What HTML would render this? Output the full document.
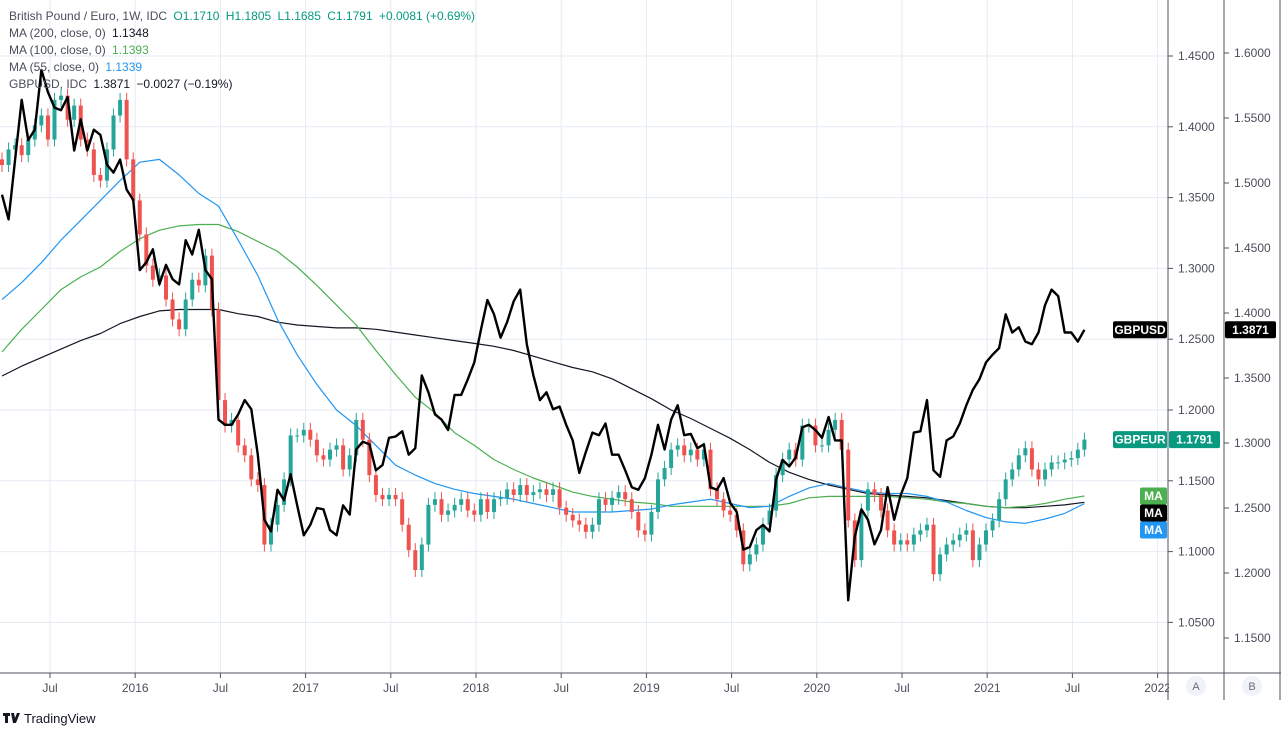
<!DOCTYPE html>
<html><head><meta charset="utf-8">
<style>
html,body{margin:0;padding:0;background:#fff;}
body{width:1281px;height:745px;overflow:hidden;font-family:"Liberation Sans","DejaVu Sans",sans-serif;}
svg text{font-family:"Liberation Sans","DejaVu Sans",sans-serif;}
</style></head>
<body>
<svg id="chart" width="1281" height="745" viewBox="0 0 1281 745" xmlns="http://www.w3.org/2000/svg">
<g id="grid"></g>
<g id="marks"></g>
<g id="axes"></g>
<g id="legend" font-size="12">
<text x="9" y="20" fill="#4a4e59">British Pound / Euro, 1W, IDC <tspan fill="#089981" dx="3">O1.1710</tspan> <tspan fill="#089981" dx="3">H1.1805</tspan> <tspan fill="#089981" dx="3">L1.1685</tspan> <tspan fill="#089981" dx="3">C1.1791</tspan> <tspan fill="#089981" dx="3">+0.0081 (+0.69%)</tspan></text>
<text x="9" y="37" fill="#4a4e59">MA (200, close, 0) <tspan fill="#131722" dx="3">1.1348</tspan></text>
<text x="9" y="54" fill="#4a4e59">MA (100, close, 0) <tspan fill="#4caf50" dx="3">1.1393</tspan></text>
<text x="9" y="71" fill="#4a4e59">MA (55, close, 0) <tspan fill="#2196f3" dx="3">1.1339</tspan></text>
<text x="9" y="88" fill="#4a4e59">GBPUSD, IDC <tspan fill="#131722" dx="3">1.3871</tspan> <tspan fill="#131722" dx="3">−0.0027 (−0.19%)</tspan></text>
</g>
<g>
<path d="M3 713h7v3h-2v7h-3v-7h-2z M11 713h3l1 5 2-5h3l-4 10h-3z" fill="#131722"/>
<text x="24" y="723" font-size="13" fill="#131722">TradingView</text>
</g>
</svg>
<script>
const eurClose=[1.373,1.384,1.387,1.380,1.391,1.401,1.408,1.391,1.419,1.422,1.405,1.415,1.391,1.384,1.366,1.362,1.384,1.408,1.419,1.377,1.348,1.324,1.302,1.292,1.295,1.278,1.264,1.257,1.278,1.292,1.288,1.309,1.271,1.207,1.189,1.193,1.175,1.168,1.151,1.147,1.105,1.119,1.133,1.151,1.182,1.182,1.186,1.179,1.168,1.165,1.172,1.175,1.158,1.168,1.193,1.179,1.154,1.140,1.137,1.140,1.137,1.119,1.101,1.087,1.105,1.133,1.137,1.126,1.129,1.133,1.137,1.129,1.126,1.137,1.128,1.137,1.138,1.144,1.140,1.147,1.140,1.142,1.144,1.140,1.144,1.131,1.126,1.122,1.119,1.114,1.119,1.137,1.133,1.138,1.142,1.137,1.128,1.115,1.112,1.128,1.151,1.159,1.172,1.175,1.168,1.172,1.165,1.172,1.144,1.137,1.129,1.126,1.115,1.091,1.098,1.105,1.119,1.129,1.154,1.165,1.172,1.165,1.189,1.189,1.175,1.175,1.186,1.193,1.172,1.122,1.094,1.129,1.144,1.140,1.129,1.115,1.105,1.108,1.105,1.112,1.115,1.119,1.084,1.098,1.105,1.108,1.112,1.115,1.094,1.105,1.115,1.122,1.137,1.151,1.158,1.168,1.173,1.158,1.151,1.158,1.163,1.163,1.165,1.166,1.172,1.1791];
const usdClose=[1.491,1.472,1.518,1.564,1.533,1.541,1.587,1.570,1.558,1.556,1.566,1.525,1.549,1.525,1.541,1.537,1.514,1.508,1.518,1.495,1.487,1.433,1.439,1.449,1.422,1.437,1.426,1.422,1.456,1.445,1.464,1.433,1.426,1.318,1.314,1.314,1.322,1.333,1.326,1.291,1.241,1.232,1.264,1.256,1.276,1.252,1.229,1.237,1.250,1.249,1.233,1.229,1.252,1.245,1.295,1.301,1.299,1.279,1.283,1.304,1.305,1.309,1.291,1.296,1.352,1.339,1.322,1.318,1.310,1.337,1.337,1.349,1.362,1.387,1.410,1.399,1.381,1.393,1.409,1.418,1.376,1.352,1.333,1.339,1.326,1.328,1.314,1.302,1.277,1.293,1.308,1.306,1.315,1.291,1.291,1.279,1.266,1.264,1.273,1.291,1.314,1.295,1.318,1.329,1.306,1.307,1.296,1.299,1.266,1.264,1.273,1.254,1.247,1.218,1.220,1.233,1.237,1.232,1.272,1.287,1.282,1.289,1.312,1.314,1.310,1.304,1.320,1.302,1.302,1.179,1.228,1.249,1.241,1.222,1.233,1.266,1.241,1.260,1.273,1.308,1.309,1.333,1.279,1.274,1.302,1.305,1.315,1.329,1.341,1.349,1.362,1.368,1.373,1.399,1.385,1.389,1.378,1.376,1.385,1.406,1.418,1.413,1.385,1.385,1.378,1.3871];
const ma55=[1.278,1.290,1.304,1.320,1.334,1.348,1.362,1.375,1.377,1.366,1.353,1.344,1.320,1.295,1.264,1.239,1.218,1.200,1.189,1.175,1.161,1.154,1.148,1.144,1.141,1.139,1.137,1.134,1.131,1.128,1.128,1.128,1.129,1.130,1.133,1.135,1.137,1.134,1.131,1.132,1.139,1.145,1.148,1.145,1.142,1.141,1.141,1.139,1.135,1.129,1.124,1.121,1.120,1.123,1.127,1.1339];
const ma100=[1.241,1.257,1.271,1.285,1.294,1.301,1.312,1.321,1.327,1.330,1.331,1.331,1.326,1.319,1.312,1.301,1.288,1.274,1.260,1.242,1.225,1.209,1.198,1.184,1.175,1.165,1.158,1.152,1.147,1.142,1.139,1.137,1.135,1.134,1.132,1.132,1.132,1.132,1.132,1.132,1.134,1.138,1.139,1.139,1.139,1.139,1.138,1.137,1.135,1.134,1.132,1.131,1.132,1.134,1.137,1.1393];
const ma200=[1.224,1.231,1.237,1.243,1.249,1.254,1.261,1.266,1.270,1.271,1.271,1.271,1.268,1.266,1.262,1.260,1.259,1.258,1.258,1.257,1.255,1.253,1.251,1.249,1.247,1.245,1.242,1.238,1.234,1.230,1.227,1.222,1.215,1.208,1.200,1.194,1.187,1.180,1.172,1.163,1.156,1.151,1.147,1.144,1.141,1.140,1.139,1.138,1.136,1.134,1.132,1.131,1.131,1.132,1.133,1.1348];
const ticksA=["1.4500","1.4000","1.3500","1.3000","1.2500","1.2000","1.1500","1.1000","1.0500"];
const ticksB=["1.6000","1.5500","1.5000","1.4500","1.4000","1.3500","1.3000","1.2500","1.2000","1.1500"];
const timeLabels=["Jul","2016","Jul","2017","Jul","2018","Jul","2019","Jul","2020","Jul","2021","Jul","2022"];

const NS="http://www.w3.org/2000/svg";
const yA=v=>56+(1.45-v)/0.05*70.8;
const yB=v=>53+(1.60-v)/0.05*65;
const xCandle=i=>2+i*6.56;
const xMA=k=>2+k*19.68;
const xTime=k=>50+k*85.2;
function mk(tag,parent,attrs){const e=document.createElementNS(NS,tag);for(const k in attrs)e.setAttribute(k,attrs[k]);parent.appendChild(e);return e;}
const grid=document.getElementById('grid'),marks=document.getElementById('marks'),axes=document.getElementById('axes');

// grid
timeLabels.forEach((t,k)=>{const l=mk('line',grid,{x1:xTime(k),x2:xTime(k),y1:0,y2:673,stroke:'#e3ebf3','stroke-width':1});

});
ticksA.forEach(t=>{const y=yA(parseFloat(t));const l=mk('line',grid,{x1:0,x2:1168,y1:y,y2:y,stroke:'#e3ebf3','stroke-width':1});

});

// MA lines
function poly(arr,xf,yf,color,w,name){const p=arr.map((v,i)=>xf(i).toFixed(1)+','+yf(v).toFixed(1)).join(' ');
const e=mk('polyline',marks,{points:p,fill:'none',stroke:color,'stroke-width':w,'stroke-linejoin':'round'});

}
poly(ma200,xMA,yA,'#131722',1.2,'ma200-line');
poly(ma100,xMA,yA,'#4caf50',1.2,'ma100-line');
poly(ma55,xMA,yA,'#2196f3',1.2,'ma55-line');

// candles
const cg=mk('g',marks,{});


eurClose.forEach((c,i)=>{const o=i?eurClose[i-1]:c+0.004;const up=c>=o;const col=up?'#26a69a':'#ef5350';const x=xCandle(i);
const top=yA(Math.max(o,c)),bot=yA(Math.min(o,c));
const w=mk('line',cg,{x1:x,x2:x,y1:top-7,y2:bot+7,stroke:col,'stroke-width':1});


const b=mk('rect',cg,{x:x-2,y:top,width:4,height:Math.max(1,bot-top),fill:col});

});

// GBPUSD line
poly(usdClose,xCandle,yB,'#000000',2.4,'gbpusd-line');

// axes lines
[[1168,0,1168,700],[1224,0,1224,700],[1280,0,1280,700],[0,673,1281,673]].forEach(a=>{const l=mk('line',axes,{x1:a[0],y1:a[1],x2:a[2],y2:a[3],stroke:'#50535e','stroke-width':1});

});
ticksA.forEach(t=>{const y=yA(parseFloat(t));mk('line',axes,{x1:1168,x2:1173,y1:y,y2:y,stroke:'#50535e'});
const e=mk('text',axes,{x:1178,y:y+4,'font-size':12,fill:'#4a4e59'});e.textContent=t;

});
ticksB.forEach(t=>{const y=yB(parseFloat(t));mk('line',axes,{x1:1224,x2:1229,y1:y,y2:y,stroke:'#50535e'});
const e=mk('text',axes,{x:1234,y:y+4,'font-size':12,fill:'#4a4e59'});e.textContent=t;

});
timeLabels.forEach((t,k)=>{const x=xTime(k);mk('line',axes,{x1:x,x2:x,y1:673,y2:678,stroke:'#50535e'});
const e=mk('text',axes,{x:x,y:692,'font-size':12,fill:'#4a4e59','text-anchor':'middle'});e.textContent=t;

});
// cover overflow of 2022 label past axis
mk('rect',axes,{x:1169,y:674,width:54,height:26,fill:'#fff'});
mk('rect',axes,{x:1225,y:674,width:54,height:26,fill:'#fff'});
[['A',1196],['B',1252]].forEach(a=>{const c=mk('circle',axes,{cx:a[1],cy:686,r:10,fill:'#f0f3fa'});


const e=mk('text',axes,{x:a[1],y:690,'font-size':11,fill:'#6a6d78','text-anchor':'middle'});e.textContent=a[0];});

// tags
function tag(x,y,w,txt,bg,name){const r=mk('rect',axes,{x:x,y:y-8.5,width:w,height:17,rx:2,fill:bg});


const e=mk('text',axes,{x:x+w/2,y:y+4,'font-size':12,'font-weight':'bold',fill:'#fff','text-anchor':'middle'});e.textContent=txt;}
const lastUsd=usdClose[usdClose.length-1],lastEur=eurClose[eurClose.length-1];
tag(1113,yB(lastUsd),54,'GBPUSD','#000','gbpusd-series-tag');
tag(1225,yB(lastUsd),51,lastUsd.toFixed(4),'#000','gbpusd-price-tag');
tag(1113,yA(lastEur),54,'GBPEUR','#089981','gbpeur-series-tag');
tag(1169,yA(lastEur),51,lastEur.toFixed(4),'#089981','gbpeur-price-tag');
tag(1140,496,27,'MA','#4caf50','ma100-tag');
tag(1140,513,27,'MA','#000','ma200-tag');
tag(1140,530,27,'MA','#2196f3','ma55-tag');
</script>
</body></html>
